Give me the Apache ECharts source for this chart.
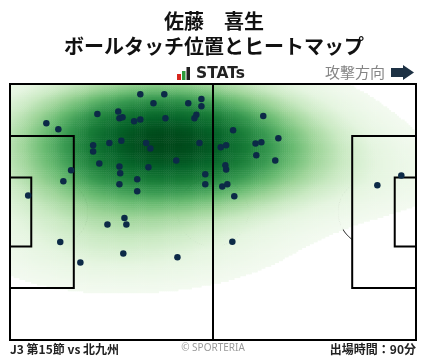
<!DOCTYPE html>
<html><head><meta charset="utf-8">
<script src="https://cdn.jsdelivr.net/npm/echarts@6/dist/echarts.min.js"></script>
<style>html,body{margin:0;padding:0;background:#fff}#c{width:428px;height:359px}</style>
</head><body><div id="c"></div>
<script>
// ---- data ----
const touchX = [33.7,39.9,37.1,46.1,49.5,49.5,48.2,47.7,22.6,28.0,28.3,29.1,32.1,33.7,40.2,9.4,12.5,49.0,25.7,28.8,35.2,36.3,21.5,21.5,23.1,43.0,28.3,28.5,35.8,15.8,13.8,50.5,50.5,32.9,28.3,32.9,4.7,29.6,25.2,30.1,13.0,18.2,29.3,43.3,57.5,65.5,57.7,54.5,55.9,63.5,65.0,69.4,63.7,68.6,55.7,55.9,54.9,56.2,58.0,95.0,101.2];
const touchY = [2.7,2.7,5.1,5.1,4.0,5.9,8.2,9.1,8.0,7.3,9.1,8.8,9.9,9.4,9.1,10.4,12.0,15.7,15.7,15.1,15.7,17.1,16.3,17.9,21.1,20.3,21.9,23.7,22.1,22.9,25.8,24.0,26.6,25.3,26.6,28.5,29.6,35.6,37.3,37.3,42.0,47.4,45.0,46.0,41.9,8.5,12.3,16.8,16.3,15.8,15.5,14.4,18.9,20.3,21.6,22.7,27.2,26.6,29.8,26.9,24.3];
const pitchLength = 105, pitchWidth = 68;
const pitchLines = [[0,0,105,68],[0,13.84,16.5,54.16],[0,24.84,5.5,43.16],[88.5,13.84,105,54.16],[99.5,24.84,105,43.16],[52.5,0,52.5,68]];
const pitchArcs = [[52.5,34,9.15,0,360],[11,34,9.15,-53.1,53.1],[94,34,9.15,126.9,233.1]];
const titleLines = ['佐藤　喜生','ボールタッチ位置とヒートマップ'];
const matchLabel = 'J3 第15節 vs 北九州';
const minutesLabel = '出場時間：90分';
const directionLabel = '攻撃方向';
const brandLabel = 'STATs';
const copyLabel = '© SPORTERIA';

// ---- density (Gaussian KDE of the touches, scaled Scott bandwidth, iso-proportion levels) ----
const n = touchX.length;
const mx = touchX.reduce((a, b) => a + b, 0) / n, my = touchY.reduce((a, b) => a + b, 0) / n;
let sxx = 0, syy = 0;
for (let k = 0; k < n; k++) { const dx = touchX[k] - mx, dy = touchY[k] - my; sxx += dx * dx; syy += dy * dy; }
sxx /= (n - 1); syy /= (n - 1);
const scott = Math.pow(n, -1 / 6);
const hx = Math.sqrt(sxx) * scott * 2.1, hy = Math.sqrt(syy) * scott * 1.4;
function dens(gx, gy) {
  let v = 0;
  for (let k = 0; k < n; k++) {
    const dx = (gx - touchX[k]) / hx, dy = (gy - touchY[k]) / hy;
    v += Math.exp(-0.5 * (dx * dx + dy * dy));
  }
  return v;
}
const ext = [];
for (let gy = -50; gy <= 118; gy += 1) for (let gx = -70; gx <= 175; gx += 1) ext.push(dens(gx, gy));
ext.sort((a, b) => a - b);
const cum = new Float64Array(ext.length); let acc = 0;
for (let i = 0; i < ext.length; i++) { acc += ext[i]; cum[i] = acc; }
function massBelow(v) {
  let lo = 0, hi = ext.length - 1;
  while (lo < hi) { const mid = (lo + hi + 1) >> 1; if (ext[mid] <= v) lo = mid; else hi = mid - 1; }
  return ext[lo] <= v ? cum[lo] / acc : 0;
}
const thresh = 0.06;
const cell = 0.5, nx = pitchLength / cell, ny = pitchWidth / cell;
const heat = [];
for (let j = 0; j < ny; j++) {
  for (let i = 0; i < nx; i++) {
    const p = massBelow(dens((i + 0.5) * cell, (j + 0.5) * cell));
    if (p >= thresh) heat.push([i, j, p]);
  }
}
const xCats = Array.from({length: nx}, (_, i) => i);
const yCats = Array.from({length: ny}, (_, j) => j);

const chart = echarts.init(document.getElementById('c'), null, {renderer: 'canvas'});
const CJK = '"Noto Sans CJK JP", "Noto Sans", sans-serif';
function txt(text, x, y, font, fill, align) {
  return {type: 'text', x: x, y: y, z: 10, style: {text: text, font: font, fill: fill,
    textAlign: align, align: align, textVerticalAlign: 'middle', verticalAlign: 'middle'}};
}
chart.setOption({
  animation: false,
  backgroundColor: '#fff',
  grid: {left: 10, right: 12, top: 84, bottom: 19, containLabel: false},
  xAxis: [
    {type: 'value', min: 0, max: pitchLength, show: false},
    {type: 'category', data: xCats, show: false, boundaryGap: true}
  ],
  yAxis: [
    {type: 'value', min: 0, max: pitchWidth, inverse: true, show: false},
    {type: 'category', data: yCats, show: false, inverse: true, boundaryGap: true}
  ],
  visualMap: {show: false, type: 'continuous', seriesIndex: 1, min: thresh, max: 1,
    inRange: {color: ['#f3faf0', '#e5f5e0', '#c9e9c2', '#9fd59a', '#6abb72', '#3a9a52', '#1a7d39', '#07642a', '#00481a']}},
  series: [
    {type: 'custom', z: 1, silent: true, clip: false, data: pitchArcs,
      renderItem: function (params, api) {
        const cx = api.value(0), cy = api.value(1), r = api.value(2), a0 = api.value(3), a1 = api.value(4);
        const pts = [];
        for (let a = a0; a <= a1 + 0.001; a += 2) {
          const t = a * Math.PI / 180;
          pts.push(api.coord([cx + r * Math.cos(t), cy + r * Math.sin(t)]));
        }
        return {type: 'polyline', shape: {points: pts}, style: {stroke: '#111', lineWidth: 1, fill: null}};
      }},
    {type: 'heatmap', z: 2, xAxisIndex: 1, yAxisIndex: 1, data: heat, progressive: 0, silent: true,
      itemStyle: {borderWidth: 0}, emphasis: {disabled: true}},
    {type: 'custom', z: 3, silent: true, clip: false, data: pitchLines,
      encode: {x: [0, 2], y: [1, 3]},
      renderItem: function (params, api) {
        const p1 = api.coord([api.value(0), api.value(1)]);
        const p2 = api.coord([api.value(2), api.value(3)]);
        if (api.value(0) === api.value(2)) {
          return {type: 'line', shape: {x1: p1[0], y1: p1[1], x2: p2[0], y2: p2[1]}, style: {stroke: '#000', lineWidth: 2}};
        }
        return {type: 'rect', shape: {x: p1[0], y: p1[1], width: p2[0] - p1[0], height: p2[1] - p1[1]},
          style: {stroke: '#000', lineWidth: 2, fill: null}};
      }},
    {type: 'scatter', z: 4, silent: true, symbolSize: 6.5,
      data: touchX.map((x, k) => [x, touchY[k]]),
      itemStyle: {color: '#0c2a47', opacity: 1}}
  ],
  graphic: [
    txt(titleLines[0], 214, 21, 'bold 20px ' + CJK, '#111', 'center'),
    txt(titleLines[1], 214, 46, 'bold 20px ' + CJK, '#111', 'center'),
    {type: 'rect', shape: {x: 177, y: 74, width: 4, height: 6}, style: {fill: '#d7261e'}},
    {type: 'rect', shape: {x: 182, y: 71, width: 3.5, height: 9}, style: {fill: '#2e9a3c'}},
    {type: 'rect', shape: {x: 186.5, y: 67, width: 3.5, height: 13}, style: {fill: '#222'}},
    txt(brandLabel, 196, 74, 'bold 15.5px "DejaVu Sans", sans-serif', '#222', 'left'),
    txt(directionLabel, 385, 72, '15px ' + CJK, '#858585', 'right'),
    {type: 'polygon', shape: {points: [[391,68],[403,68],[403,65],[414,72.5],[403,80],[403,77],[391,77]]}, style: {fill: '#1d3144'}},
    txt(matchLabel, 10, 349, 'bold 12px ' + CJK, '#222', 'left'),
    txt(copyLabel, 213, 348, '10px "Noto Sans", sans-serif', '#9a9a9a', 'center'),
    txt(minutesLabel, 416, 349, 'bold 12px ' + CJK, '#222', 'right')
  ]
});
</script></body></html>
